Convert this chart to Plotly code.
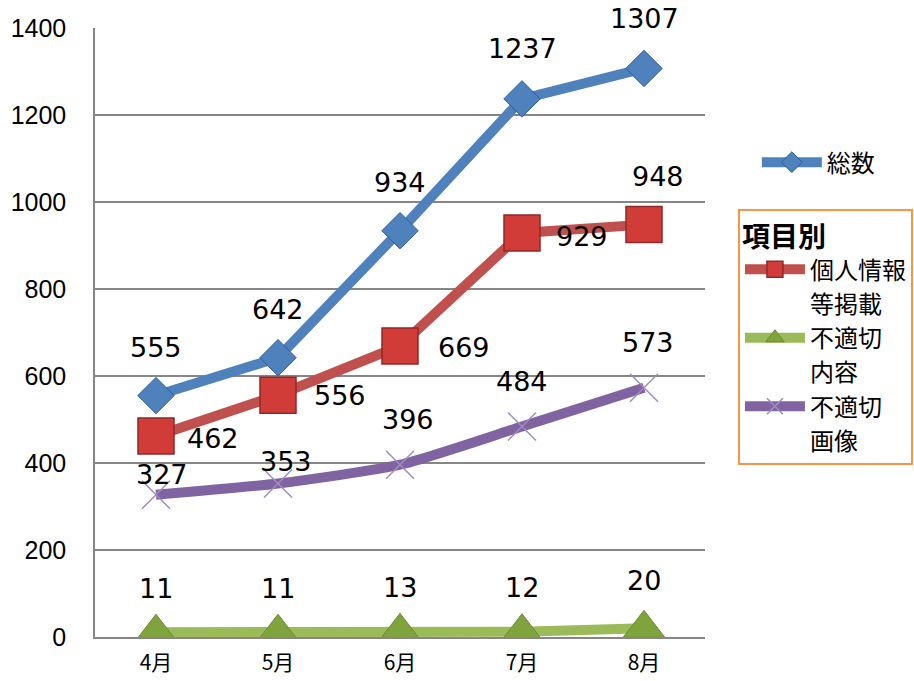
import plotly.graph_objects as go

months = ["4月", "5月", "6月", "7月", "8月"]
total = [555, 642, 934, 1237, 1307]
personal = [462, 556, 669, 929, 948]
inappropriate_content = [11, 11, 13, 12, 20]
inappropriate_image = [327, 353, 396, 484, 573]

# legend names: first line goes with the series, second line is a continuation entry
names = ["総数", "個人情報", "不適切", "不適切"]
name_cont = [None, "等掲載", "内容", "画像"]
colors = ["#4F81BD", "#C0504D", "#9BBB59", "#8064A2"]
edge = ["#2C5D98", "#8E2A27", "#6E8A34", "#8064A2"]

fig = go.Figure()


def add_cont(label, grp):
    fig.add_trace(go.Scatter(
        x=[None], y=[None], name=label, mode="lines",
        line=dict(color="rgba(0,0,0,0)", width=1),
        legend="legend2", legendgroup=grp, showlegend=True, hoverinfo="skip",
    ))


fig.add_trace(go.Scatter(
    x=months, y=total, name=names[0], mode="lines+markers",
    line=dict(color=colors[0], width=10),
    marker=dict(symbol="diamond", size=28, color=colors[0], line=dict(color=edge[0], width=1)),
    legend="legend", showlegend=True,
))
fig.add_trace(go.Scatter(
    x=months, y=personal, name=names[1], mode="lines+markers",
    line=dict(color=colors[1], width=10),
    marker=dict(symbol="square", size=36, color="#D23C38", line=dict(color=edge[1], width=1.5)),
    legend="legend2", legendgroup="a", showlegend=True,
))
add_cont(name_cont[1], "a")
fig.add_trace(go.Scatter(
    x=months, y=inappropriate_content, name=names[2], mode="lines+markers",
    line=dict(color=colors[2], width=10),
    marker=dict(symbol="triangle-up", size=36, color="#7FA33D", line=dict(color=edge[2], width=1)),
    legend="legend2", legendgroup="b", showlegend=True,
))
add_cont(name_cont[2], "b")
fig.add_trace(go.Scatter(
    x=months, y=inappropriate_image, name=names[3], mode="lines+markers",
    line=dict(color=colors[3], width=10, shape="spline", smoothing=0.6),
    marker=dict(symbol="x-thin", size=28, color=colors[3], line=dict(color="#9F8CC0", width=1.5)),
    legend="legend2", legendgroup="c", showlegend=True,
))
add_cont(name_cont[3], "c")

# label offsets (pixels) per series
offsets = [
    [(0, 48), (0, 48), (0, 48), (0, 50), (0, 50)],
    [(57, -2), (62, 0), (64, -2), (60, -4), (14, 48)],
    [(0, 44), (0, 44), (0, 44), (0, 44), (0, 48)],
    [(6, 20), (8, 22), (8, 45), (0, 45), (4, 45)],
]
series = [total, personal, inappropriate_content, inappropriate_image]
for vals, offs in zip(series, offsets):
    for m, v, (dx, dy) in zip(months, vals, offs):
        fig.add_annotation(
            x=m, y=v, text=str(v), showarrow=False, xshift=dx, yshift=dy,
            font=dict(family="DejaVu Sans", size=27, color="#000000"),
        )

fig.update_layout(
    width=914, height=681,
    margin=dict(l=95, r=209, t=28, b=44, autoexpand=False),
    paper_bgcolor="white", plot_bgcolor="white",
    showlegend=True,
    font=dict(family="Noto Sans CJK JP, DejaVu Sans", color="#000000"),
    legend=dict(
        x=1.085, y=0.816, xanchor="left", yanchor="top",
        font=dict(size=24, family="Noto Sans CJK JP"),
        bgcolor="rgba(0,0,0,0)", borderwidth=0, itemwidth=60,
    ),
    legend2=dict(
        x=1.054, y=0.703, xanchor="left", yanchor="top",
        title=dict(text="<b>項目別</b>", font=dict(size=28, family="Noto Sans CJK JP")),
        font=dict(size=24, family="Noto Sans CJK JP"),
        bgcolor="white", bordercolor="#F79646", borderwidth=2,
        tracegroupgap=0, itemwidth=60,
    ),
)
fig.update_xaxes(
    range=[-0.5, 4.5], showgrid=False, showline=True, linecolor="#868686", linewidth=1.5,
    tickfont=dict(size=21, family="Noto Sans CJK JP"), ticks="", ticklabelstandoff=6,
)
fig.update_yaxes(
    range=[0, 1400], dtick=200, showgrid=True, gridcolor="#868686", gridwidth=1.5,
    showline=True, linecolor="#868686", linewidth=1.5, zeroline=False,
    tickfont=dict(size=25, family="Liberation Sans"), ticks="", ticklabelstandoff=22,
)

fig.write_html("out.html")
